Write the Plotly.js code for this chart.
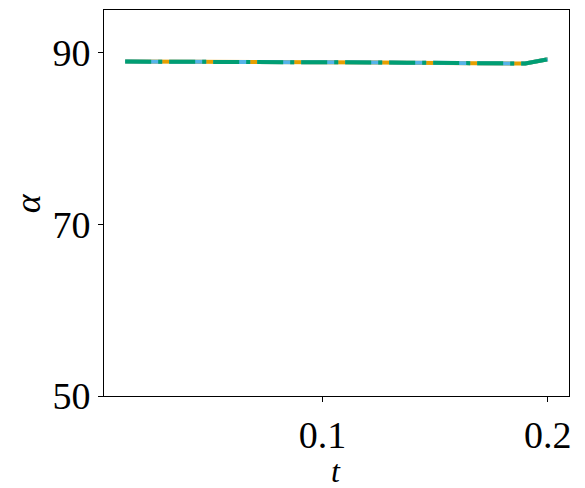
<!DOCTYPE html>
<html>
<head>
<meta charset="utf-8">
<script src="https://cdn.plot.ly/plotly-3.0.1.min.js"></script>
<style>html,body{margin:0;padding:0;background:#fff;}#chart{width:585px;height:488px;}</style>
</head>
<body>
<div id="chart"></div>
<script>
const t = [0.0125, 0.025, 0.0375, 0.05, 0.0625, 0.075, 0.0875, 0.1, 0.1125, 0.125, 0.1375, 0.15, 0.1625, 0.175, 0.19, 0.2];
const alphaA = [88.99, 88.99, 88.98, 88.97, 88.96, 88.95, 88.94, 88.92, 88.90, 88.88, 88.86, 88.84, 88.81, 88.79, 88.76, 89.26];
const alphaB = [88.99, 88.99, 88.98, 88.97, 88.96, 88.95, 88.94, 88.92, 88.90, 88.88, 88.86, 88.84, 88.81, 88.79, 88.76, 89.26];
const alphaC = [88.99, 88.99, 88.98, 88.97, 88.96, 88.95, 88.94, 88.92, 88.90, 88.88, 88.86, 88.84, 88.81, 88.79, 88.76, 89.26];
const xTicks = [0.1, 0.2];
const xTickText = ['0.1', '0.2'];
const yTicks = [50, 70, 90];
const yTickText = ['50', '70', '90'];
const xLabel = 't';
const yLabel = 'α';

const traces = [
  {x: t, y: alphaA, mode: 'lines', line: {color: '#E69F00', width: 4}, hoverinfo: 'skip'},
  {x: t, y: alphaB, mode: 'lines', line: {color: '#56B4E9', width: 4, dash: '37px,7px'}, hoverinfo: 'skip'},
  {x: t, y: alphaC, mode: 'lines', line: {color: '#009E73', width: 4, dash: '26px,7px,4px,7px'}, hoverinfo: 'skip'}
];

const layout = {
  width: 585, height: 488,
  margin: {l: 104, r: 16, t: 10, b: 92},
  paper_bgcolor: '#fff', plot_bgcolor: '#fff',
  showlegend: false,
  font: {family: 'Liberation Serif', color: '#000'},
  xaxis: {
    range: [0.0031, 0.2094], tickvals: xTicks, ticktext: xTickText,
    showgrid: false, zeroline: false, showline: true, mirror: true, linecolor: '#000', linewidth: 1,
    ticks: 'outside', ticklen: 5, tickwidth: 1, tickcolor: '#000',
    tickfont: {family: 'Liberation Serif', size: 38, color: '#000'}
  },
  yaxis: {
    range: [50, 95], tickvals: yTicks, ticktext: yTickText,
    showgrid: false, zeroline: false, showline: true, mirror: true, linecolor: '#000', linewidth: 1,
    ticks: 'outside', ticklen: 5, tickwidth: 1, tickcolor: '#000',
    tickfont: {family: 'Liberation Serif', size: 38, color: '#000'}
  },
  annotations: [
    {text: '<i>' + xLabel + '</i>', xref: 'paper', yref: 'paper', x: 0.499, y: -0.195,
     xanchor: 'center', yanchor: 'middle', showarrow: false,
     font: {family: 'Liberation Serif', size: 32, color: '#000'}},
    {text: '<i>' + yLabel + '</i>', xref: 'paper', yref: 'paper', x: -0.163, y: 0.5,
     xanchor: 'center', yanchor: 'middle', showarrow: false, textangle: -90,
     font: {family: 'Liberation Serif', size: 36, color: '#000'}}
  ]
};

Plotly.newPlot('chart', traces, layout, {displayModeBar: false, staticPlot: true});
</script>
</body>
</html>
